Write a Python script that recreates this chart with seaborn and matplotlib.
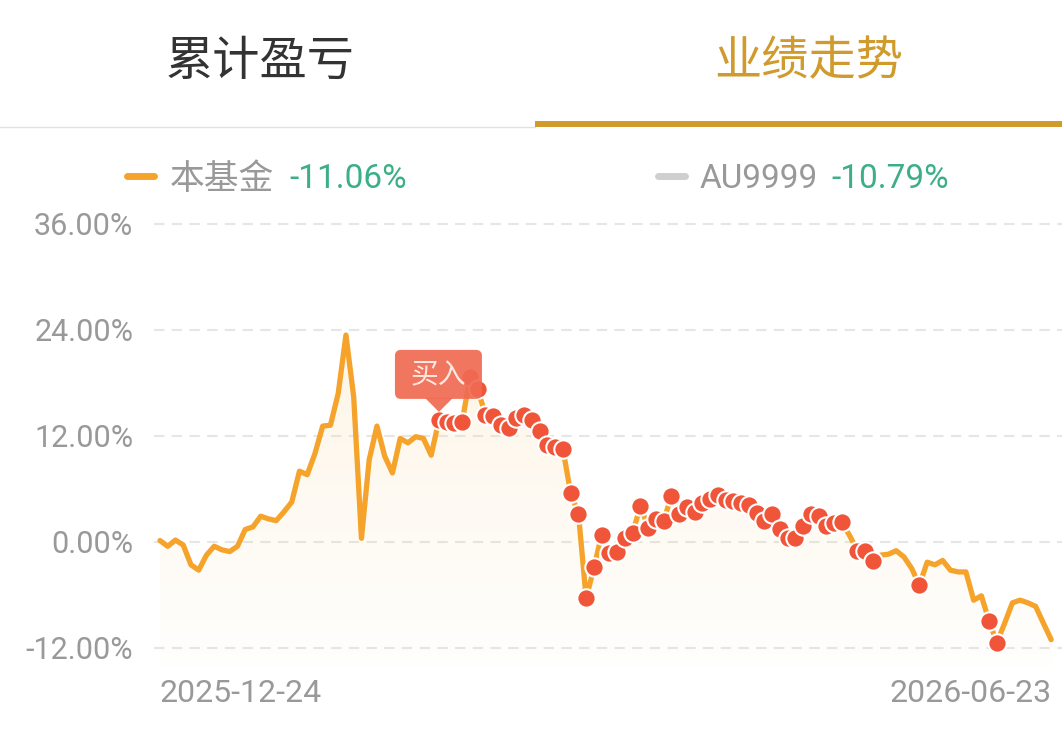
import numpy as np
import pandas as pd
import matplotlib
matplotlib.use("Agg")
import matplotlib.pyplot as plt
import seaborn as sns
from matplotlib.lines import Line2D
from matplotlib.patches import Polygon, FancyBboxPatch
from matplotlib.transforms import IdentityTransform

# ---------------- data ----------------
fund_returns = [
    0.15, -0.5, 0.2, -0.35, -2.6, -3.2, -1.5, -0.5, -0.9, -1.1,
    -0.5, 1.4, 1.7, 2.9, 2.6, 2.4, 3.4, 4.5, 8.0, 7.6,
    10.0, 13.1, 13.2, 16.8, 23.4, 16.4, 0.4, 9.3, 13.1, 9.7,
    7.8, 11.7, 11.2, 11.9, 11.7, 9.8, 13.8, 13.6, 13.5, 13.6,
    18.6, 17.3, 14.4, 14.2, 13.2, 12.9, 14.0, 14.3, 13.8, 12.5,
    11.0, 10.7, 10.5, 5.5, 3.2, -6.4, -2.9, 0.8, -1.3, -1.1,
    0.4, 1.0, 4.1, 1.6, 2.6, 2.4, 5.2, 3.1, 3.9, 3.4,
    4.4, 4.9, 5.3, 4.7, 4.6, 4.4, 4.2, 3.3, 2.4, 3.2,
    1.5, 0.4, 0.4, 1.8, 3.2, 2.9, 1.8, 2.1, 2.2, 0.7,
    -1.0, -1.0, -2.2, -1.5, -1.4, -1.0, -1.7, -3.0, -4.9, -2.3,
    -2.6, -2.1, -3.2, -3.4, -3.4, -6.6, -6.1, -9.0, -11.4, -9.2,
    -6.9, -6.6, -6.9, -7.3, -9.2, -11.06,
]
trade_points = [
    36, 37, 38, 39, 40, 41, 42, 43, 44, 45, 46, 47, 48, 49, 50, 51, 52, 53,
    54, 55, 56, 57, 58, 59, 60, 61, 62, 63, 64, 65, 66, 67, 68, 69, 70, 71,
    72, 73, 74, 75, 76, 77, 78, 79, 80, 81, 82, 83, 84, 85, 86, 87, 88,
    90, 91, 92, 98, 107, 108,
]
buy_point = 36
date_labels = ["2025-12-24", "2026-06-23"]
y_ticks = [-12, 0, 12, 24, 36]
tabs = ["累计盈亏", "业绩走势"]
legend_names = ["本基金", "AU9999"]
legend_values = ["-11.06%", "-10.79%"]

# ---------------- style ----------------
sns.set_theme(style="white")
plt.rcParams["font.family"] = ["Noto Sans CJK SC", "DejaVu Sans"]

LINE_C = "#F5A32B"
DOT_C = "#F0553A"
GREY_T = "#999999"
GREEN = "#3DAF86"
GOLD = "#D09B2C"

W, H = 1062, 731
fig = plt.figure(figsize=(W / 100, H / 100), dpi=100)
fig.patch.set_facecolor("white")

def fx(px):
    return px / W

def fy(py):
    return 1 - py / H

# axes: left 154px, right 1062px, top 206px, bottom 665.6px
ax = fig.add_axes([fx(154), fy(665.6), (W - 154) / W, (665.6 - 206) / H])
ax.set_facecolor("white")

df = pd.DataFrame({"idx": np.arange(len(fund_returns)), "ret": fund_returns})
n = len(df)
x0, x1 = -0.77, (n - 1) + 1.4
y0, y1 = -14, 38

# gradient fill under the line
verts = [(0, y0)] + list(zip(df["idx"], df["ret"])) + [(n - 1, y0)]
poly = Polygon(verts, closed=True, fc="none", ec="none", transform=ax.transData)
ax.add_patch(poly)
grad = np.linspace(1, 0, 256)
img = np.zeros((256, 1, 4))
img[:, 0, 0] = 0.98
img[:, 0, 1] = 0.84
img[:, 0, 2] = 0.60
img[:, 0, 3] = 0.02 + 0.22 * grad
im = ax.imshow(img, extent=[0, n - 1, y0, max(fund_returns)], aspect="auto",
               origin="upper", zorder=1, interpolation="bilinear")
im.set_clip_path(poly)

sns.lineplot(data=df, x="idx", y="ret", color=LINE_C, linewidth=3.8, ax=ax,
             zorder=3, solid_joinstyle="round", solid_capstyle="round")
sns.scatterplot(data=df.iloc[trade_points], x="idx", y="ret", s=175, color=DOT_C,
                edgecolor="white", linewidth=1.5, zorder=4, ax=ax)

ax.set_xlim(x0, x1)
ax.set_ylim(y0, y1)
for s in ax.spines.values():
    s.set_visible(False)

ax.set_yticks(y_ticks)
ax.set_yticklabels([f"{v:.2f}%" for v in y_ticks], color=GREY_T, fontsize=22,
                   family="Roboto")
ax.yaxis.grid(True, color="#E6E6E6", linestyle=(0, (5, 3.5)), linewidth=1.5)
ax.xaxis.grid(False)
ax.tick_params(axis="y", length=0, pad=15)

ax.set_xticks([0, n - 1])
ax.set_xticklabels(date_labels, color=GREY_T, fontsize=23, family="Roboto")
ax.tick_params(axis="x", length=0, pad=10)
xl = ax.get_xticklabels()
xl[0].set_ha("left")
xl[1].set_ha("right")
ax.set_xlabel("")
ax.set_ylabel("")

# ---------------- header tabs ----------------
fig.text(fx(260), fy(62), tabs[0], ha="center", va="center", fontsize=34, color="#333333")
fig.text(fx(809), fy(62), tabs[1], ha="center", va="center", fontsize=34, color=GOLD)
fig.add_artist(Line2D([0, fx(535)], [fy(127), fy(127)], color="#E2E2E2", lw=1.0))
fig.add_artist(Line2D([fx(535), 1], [fy(124), fy(124)], color="#D19A2B", lw=4.3,
                      solid_capstyle="butt"))

# ---------------- legend ----------------
fig.add_artist(Line2D([fx(127), fx(154)], [fy(176), fy(176)], color=LINE_C, lw=5,
                      solid_capstyle="round"))
fig.text(fx(170), fy(179), legend_names[0], ha="left", va="center", fontsize=25, color=GREY_T)
fig.text(fx(289), fy(179), legend_values[0], ha="left", va="center", fontsize=24,
         color=GREEN, family="Roboto")
fig.add_artist(Line2D([fx(658), fx(685)], [fy(176), fy(176)], color="#CFCFCF", lw=5,
                      solid_capstyle="round"))
fig.text(fx(700), fy(179), legend_names[1], ha="left", va="center", fontsize=24,
         color=GREY_T, family="Roboto")
fig.text(fx(831), fy(179), legend_values[1], ha="left", va="center", fontsize=24,
         color=GREEN, family="Roboto")

# ---------------- buy label ----------------
mx, my = ax.transData.transform((buy_point, fund_returns[buy_point]))
box = FancyBboxPatch((mx - 44, my + 21), 87, 49,
                     boxstyle="round,pad=0,rounding_size=6",
                     fc="#F06A52", ec="none", alpha=0.92,
                     transform=IdentityTransform(), zorder=5)
fig.add_artist(box)
tri = Polygon([(mx - 14, my + 22), (mx + 14, my + 22), (mx, my + 8)], closed=True,
              fc="#F06A52", ec="none", alpha=0.92, transform=IdentityTransform(), zorder=5)
fig.add_artist(tri)
fig.text(mx - 1, my + 45, "买入", transform=IdentityTransform(), ha="center", va="center",
         fontsize=20, color="#FFE9E2", zorder=6)

fig.savefig("out.png", dpi=100, facecolor="white")
